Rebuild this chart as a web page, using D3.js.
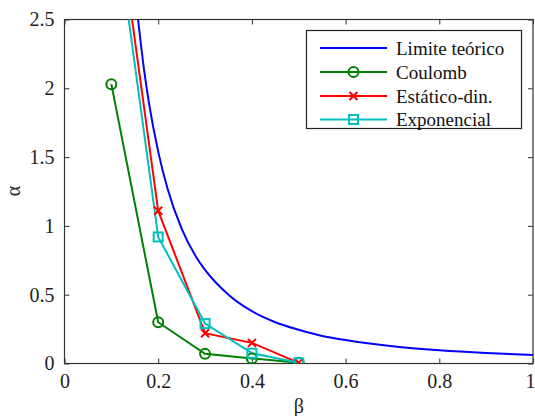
<!DOCTYPE html>
<html><head><meta charset="utf-8">
<script src="https://cdn.jsdelivr.net/npm/d3@7"></script>
<style>body{margin:0;background:#fff}svg{display:block}</style>
</head><body>
<script>
const xTicks = [0, 0.2, 0.4, 0.6, 0.8, 1];
const yTicks = [0, 0.5, 1, 1.5, 2, 2.5];
const seriesNames = ["Limite teórico", "Coulomb", "Estático-din.", "Exponencial"];
const limiteBeta  = [0.157, 0.17, 0.18, 0.2, 0.22, 0.25, 0.28, 0.3, 0.35, 0.4, 0.45, 0.5, 0.55, 0.6, 0.7, 0.8, 0.9, 1.0];
const limiteAlpha = [2.5, 2.13, 1.90, 1.54, 1.27, 0.98, 0.78, 0.68, 0.50, 0.38, 0.30, 0.245, 0.20, 0.17, 0.125, 0.096, 0.076, 0.062];
const betaPts = [0.1, 0.2, 0.3, 0.4, 0.5];
const coulomb = [2.03, 0.30, 0.07, 0.037, 0.005];
const estatico = [3.6, 1.11, 0.22, 0.15, 0.005];
const exponencial = [3.43, 0.92, 0.29, 0.075, 0.005];
const colors = ["#0000ff", "#008000", "#ff0000", "#00bfbf"];

const W = 535, H = 416;
const m = {l: 64.5, t: 19.5, r: 533, b: 363.5};
const font = "Liberation Serif";
const svg = d3.select("body").append("svg").attr("width", W).attr("height", H)
  .style("font-family", font);
const x = d3.scaleLinear().domain([0, 1]).range([m.l, m.r]);
const y = d3.scaleLinear().domain([0, 2.5]).range([m.b, m.t]);

svg.append("defs").append("clipPath").attr("id", "clip")
  .append("rect").attr("x", m.l).attr("y", m.t).attr("width", m.r - m.l).attr("height", m.b - m.t);

const axisColor = "#333";
const gx = svg.append("g").attr("transform", `translate(0,${m.b})`)
  .call(d3.axisBottom(x).tickValues(xTicks).tickSizeInner(-5).tickSizeOuter(0).tickPadding(10).tickFormat(d3.format("")));
const gxt = svg.append("g").attr("transform", `translate(0,${m.t})`)
  .call(d3.axisTop(x).tickValues(xTicks).tickSizeInner(-5).tickSizeOuter(0).tickFormat(""));
const gy = svg.append("g").attr("transform", `translate(${m.l},0)`)
  .call(d3.axisLeft(y).tickValues(yTicks).tickSizeInner(-5).tickSizeOuter(0).tickPadding(10).tickFormat(d3.format("")));
const gyr = svg.append("g").attr("transform", `translate(${m.r},0)`)
  .call(d3.axisRight(y).tickValues(yTicks).tickSizeInner(-5).tickSizeOuter(0).tickFormat(""));
[gx, gxt, gy, gyr].forEach(g => {
  g.attr("font-family", null).attr("font-size", null);
  g.select(".domain").remove();
  g.selectAll("line").attr("stroke", axisColor);
  g.selectAll("text").style("font-family", font).style("font-size", "20px").attr("fill", "#222");
});
gx.selectAll("text").attr("dy", "0.71em");
gx.selectAll(".tick").filter(d => d === 1).select("text").attr("text-anchor", "end").attr("dx", "2");

svg.append("rect").attr("x", m.l).attr("y", m.t).attr("width", m.r - m.l).attr("height", m.b - m.t)
  .attr("fill", "none").attr("stroke", axisColor).attr("stroke-width", 1.2);

svg.append("text").attr("x", (m.l + m.r) / 2).attr("y", 413).attr("text-anchor", "middle")
  .style("font-family", font).style("font-size", "20px").attr("fill", "#222").text("β");
svg.append("text").attr("transform", "translate(20,191) rotate(-90)").attr("text-anchor", "middle")
  .style("font-family", font).style("font-size", "20px").attr("fill", "#222").text("α");

const plot = svg.append("g").attr("clip-path", "url(#clip)");
const line = d3.line().x(d => x(d[0])).y(d => y(d[1]));

plot.append("path").datum(limiteBeta.map((b, i) => [b, limiteAlpha[i]]))
  .attr("d", line.curve(d3.curveMonotoneX)).attr("fill", "none").attr("stroke", colors[0]).attr("stroke-width", 2);
line.curve(d3.curveLinear);

const sets = [coulomb, estatico, exponencial];
const markerTypes = ["circle", "x", "square"];
function drawMarker(g, type, cx, cy, col) {
  if (type === "circle") g.append("circle").attr("cx", cx).attr("cy", cy).attr("r", 5).attr("fill", "none").attr("stroke", col).attr("stroke-width", 2);
  else if (type === "square") g.append("rect").attr("x", cx - 4.5).attr("y", cy - 4.5).attr("width", 9).attr("height", 9).attr("fill", "none").attr("stroke", col).attr("stroke-width", 2);
  else {
    const s = 4;
    g.append("path").attr("d", `M${cx - s},${cy - s}L${cx + s},${cy + s}M${cx - s},${cy + s}L${cx + s},${cy - s}`).attr("stroke", col).attr("stroke-width", 2);
  }
}
sets.forEach((vals, k) => {
  plot.append("path").datum(betaPts.map((b, i) => [b, vals[i]])).attr("d", line)
    .attr("fill", "none").attr("stroke", colors[k + 1]).attr("stroke-width", 2);
});
sets.forEach((vals, k) => {
  const g = plot.append("g");
  betaPts.forEach((b, i) => drawMarker(g, markerTypes[k], x(b), y(vals[i]), colors[k + 1]));
});

const lg = svg.append("g");
lg.append("rect").attr("x", 306.5).attr("y", 30.5).attr("width", 215).attr("height", 98)
  .attr("fill", "#fff").attr("stroke", "#222").attr("stroke-width", 1.2);
const rowY = [48, 72, 96, 119.5];
seriesNames.forEach((name, i) => {
  lg.append("line").attr("x1", 320).attr("x2", 387).attr("y1", rowY[i]).attr("y2", rowY[i])
    .attr("stroke", colors[i]).attr("stroke-width", 2);
  if (i > 0) drawMarker(lg, markerTypes[i - 1], 353.5, rowY[i], colors[i]);
  lg.append("text").attr("x", 396).attr("y", rowY[i]).attr("dy", "0.35em")
    .style("font-family", font).style("font-size", "19px").attr("fill", "#111").text(name);
});
</script>
</body></html>
